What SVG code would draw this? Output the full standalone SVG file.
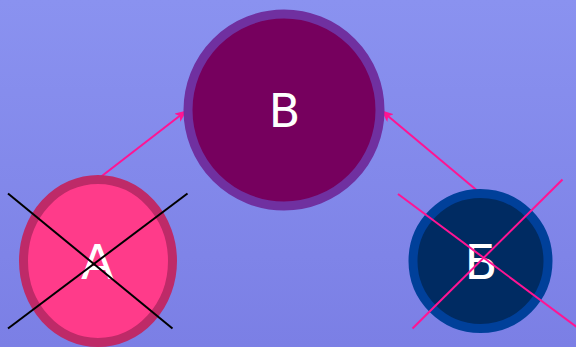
<svg xmlns="http://www.w3.org/2000/svg" width="576" height="347" viewBox="0 0 576 347">
<defs>
<linearGradient id="bg" x1="0" y1="0" x2="0" y2="1">
<stop offset="0" stop-color="#8a92f0"/>
<stop offset="1" stop-color="#7b7fe5"/>
</linearGradient>
<marker id="arr" viewBox="0 0 12 10" refX="11" refY="5" markerWidth="12" markerHeight="10" markerUnits="userSpaceOnUse" orient="auto">
<path d="M0,0 L12,5 L0,10 L3,5 Z" fill="#ff1493"/>
</marker>
<style>
.lbl{font-family:"DejaVu Sans",sans-serif;fill:#ffffff;text-anchor:middle}
.conn{stroke:#ff1493;stroke-width:2;fill:none}
</style>
</defs>
<rect width="576" height="347" fill="url(#bg)"/>
<g id="connectors">
<line class="conn" x1="98" y1="179" x2="186" y2="111" marker-end="url(#arr)"/>
<line class="conn" x1="480" y1="193" x2="382" y2="111" marker-end="url(#arr)"/>
</g>
<g id="node-B">
<circle cx="284" cy="110" r="96" fill="#76005e" stroke="#7030a0" stroke-width="9"/>
<text class="lbl" x="284.5" y="127" font-size="46">B</text>
</g>
<g id="node-A">
<ellipse cx="98" cy="261" rx="74.5" ry="81.5" fill="#ff3b8a" stroke="#be2a68" stroke-width="9"/>
<text class="lbl" x="97.5" y="279" font-size="48">A</text>
<line x1="8" y1="193.5" x2="172.5" y2="328.5" stroke="#000" stroke-width="2"/>
<line x1="187.5" y1="193.5" x2="8" y2="328.5" stroke="#000" stroke-width="2"/>
</g>
<g id="node-Б">
<circle cx="480.5" cy="261" r="67.5" fill="#002b62" stroke="#00409a" stroke-width="9"/>
<text class="lbl" x="481" y="279" font-size="48">Б</text>
<line x1="398" y1="194" x2="578" y2="328" stroke="#ff1493" stroke-width="2"/>
<line x1="562.5" y1="179.5" x2="412.5" y2="328.5" stroke="#ff1493" stroke-width="2"/>
</g>
</svg>
